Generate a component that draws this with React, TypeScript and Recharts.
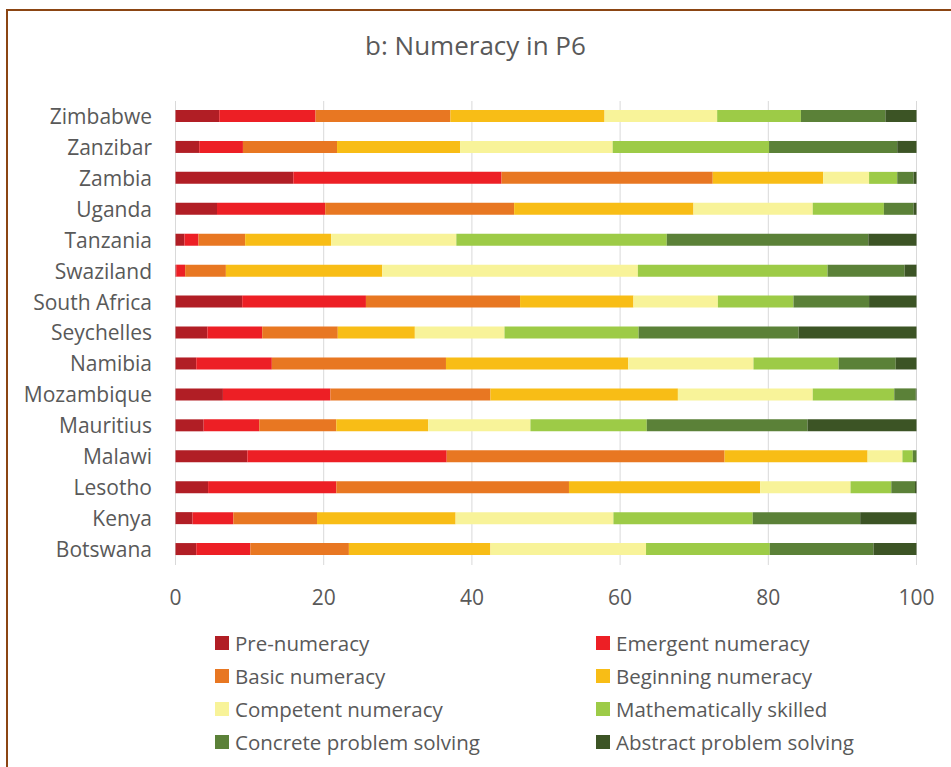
import { BarChart, Bar, XAxis, YAxis, CartesianGrid } from "recharts";

const countries = [
  "Zimbabwe", "Zanzibar", "Zambia", "Uganda", "Tanzania", "Swaziland", "South Africa",
  "Seychelles", "Namibia", "Mozambique", "Mauritius", "Malawi", "Lesotho", "Kenya", "Botswana",
];

// one array per level, same order as countries (top to bottom)
const preNumeracy = [5.9, 3.2, 15.9, 5.6, 1.2, 0.1, 9.0, 4.3, 2.8, 6.4, 3.8, 9.7, 4.4, 2.3, 2.8];
const emergent = [13.0, 5.9, 28.1, 14.6, 1.9, 1.2, 16.7, 7.4, 10.2, 14.5, 7.5, 26.9, 17.3, 5.5, 7.3];
const basic = [18.2, 12.7, 28.5, 25.5, 6.3, 5.5, 20.8, 10.2, 23.5, 21.6, 10.4, 37.5, 31.4, 11.3, 13.3];
const beginning = [20.8, 16.6, 14.9, 24.2, 11.6, 21.1, 15.3, 10.4, 24.6, 25.3, 12.4, 19.3, 25.8, 18.7, 19.1];
const competent = [15.2, 20.6, 6.2, 16.1, 16.9, 34.5, 11.4, 12.1, 16.9, 18.2, 13.8, 4.7, 12.2, 21.3, 21.0];
const mathSkilled = [11.3, 21.1, 3.8, 9.6, 28.4, 25.6, 10.2, 18.1, 11.5, 11.0, 15.7, 1.4, 5.5, 18.8, 16.7];
const concrete = [11.4, 17.3, 2.2, 4.0, 27.2, 10.4, 10.2, 21.6, 7.7, 2.9, 21.7, 0.5, 3.2, 14.5, 14.0];
const abstract = [4.2, 2.6, 0.4, 0.4, 6.5, 1.6, 6.4, 15.9, 2.8, 0.1, 14.7, 0, 0.2, 7.6, 5.8];

const xTicks = [0, 20, 40, 60, 80, 100];

const series = [
  { key: "pre", name: "Pre-numeracy", color: "#B11E25", values: preNumeracy },
  { key: "emergent", name: "Emergent numeracy", color: "#ED1F25", values: emergent },
  { key: "basic", name: "Basic numeracy", color: "#E87722", values: basic },
  { key: "beginning", name: "Beginning numeracy", color: "#F8BD16", values: beginning },
  { key: "competent", name: "Competent numeracy", color: "#F8F399", values: competent },
  { key: "math", name: "Mathematically skilled", color: "#9DCB47", values: mathSkilled },
  { key: "concrete", name: "Concrete problem solving", color: "#5B8138", values: concrete },
  { key: "abstract", name: "Abstract problem solving", color: "#3C5425", values: abstract },
];

const rows = countries.map((country, i) => {
  const row: Record<string, string | number> = { country };
  series.forEach((s) => (row[s.key] = s.values[i]));
  return row;
});

const font = "'Open Sans', sans-serif";
const grey = "#595959";
const frame = "#8B4513";

export default function App() {
  return (
    <div style={{ position: "relative", width: 951, height: 767, overflow: "hidden", background: "#fff", fontFamily: font }}>
      <style>{"body { margin: 0; }"}</style>
      <div style={{ position: "absolute", left: 0, width: 951, top: 27, textAlign: "center", fontSize: 26, color: grey }}>
        b: Numeracy in P6
      </div>
      <div style={{ position: "absolute", left: 0, top: 0 }}>
        <BarChart
          width={951}
          height={620}
          data={rows}
          layout="vertical"
          margin={{ top: 101, right: 34.5, bottom: 0, left: 0 }}
        >
          <CartesianGrid horizontal={false} stroke="#D9D9D9" />
          <XAxis
            type="number"
            domain={[0, 100]}
            ticks={xTicks}
            height={55}
            axisLine={false}
            tickLine={false}
            tickMargin={19}
            tick={{ fontSize: 21, fill: grey, fontFamily: font }}
          />
          <YAxis
            type="category"
            dataKey="country"
            width={175.5}
            axisLine={false}
            tickLine={false}
            tickMargin={17.5}
            interval={0}
            tick={{ fontSize: 21, fill: grey, fontFamily: font }}
          />
          {series.map((s) => (
            <Bar key={s.key} dataKey={s.key} name={s.name} stackId="a" fill={s.color} barSize={12} isAnimationActive={false} />
          ))}
        </BarChart>
      </div>
      {series.map((s, i) => (
        <div
          key={s.key}
          style={{
            position: "absolute",
            left: i % 2 === 0 ? 215 : 596,
            top: 643 + Math.floor(i / 2) * 33 - 14,
            height: 28,
            display: "flex",
            alignItems: "center",
            fontSize: 20.5,
            color: grey,
            whiteSpace: "nowrap",
          }}
        >
          <span style={{ display: "inline-block", width: 14, height: 14, background: s.color, marginRight: 6 }} />
          {s.name}
        </div>
      ))}
      <div style={{ position: "absolute", left: 6, top: 9, width: 2, height: 760, background: frame }} />
      <div style={{ position: "absolute", left: 6, top: 9, width: 945, height: 2, background: frame }} />
    </div>
  );
}
